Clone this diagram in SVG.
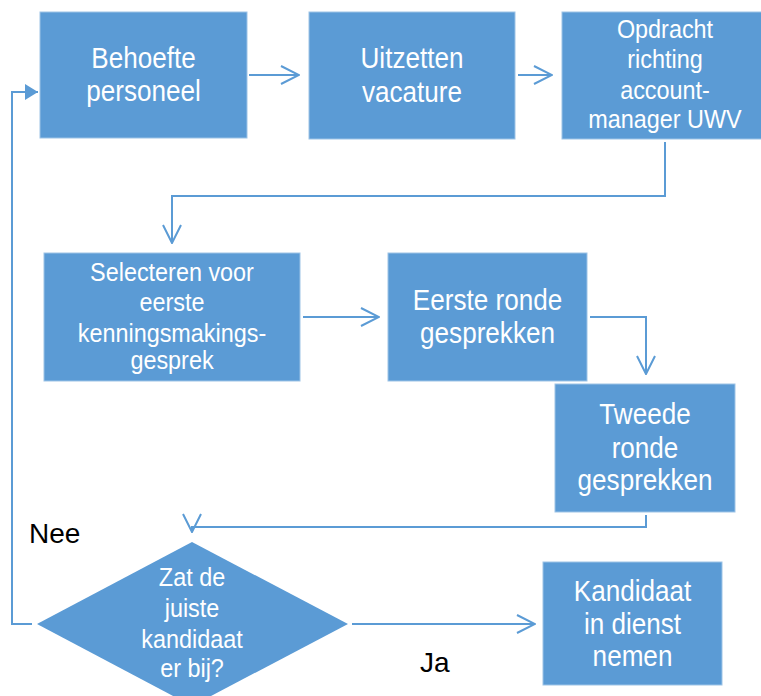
<svg xmlns="http://www.w3.org/2000/svg" width="761" height="696" viewBox="0 0 761 696">
  <style>
    .box { fill: #5B9BD5; stroke: #9DC3E6; stroke-width: 1; }
    .t { fill: #FFFFFF; font-family: "Liberation Sans", Arial, sans-serif; font-size: 29px; text-anchor: middle; }
    .ts { font-size: 26px; }
    .lbl { fill: #000000; font-family: "Liberation Sans", Arial, sans-serif; font-size: 28px; }
    .con { fill: none; stroke: #5B9BD5; stroke-width: 2; }
  </style>
  <defs>
    <marker id="open" viewBox="0 0 20 20" markerWidth="20" markerHeight="20" refX="19" refY="10" orient="auto" markerUnits="userSpaceOnUse">
      <path d="M1,1 L19,10 L1,19" fill="none" stroke="#5B9BD5" stroke-width="2"/>
    </marker>
    <marker id="solid" viewBox="0 0 14 16" markerWidth="14" markerHeight="16" refX="13" refY="8" orient="auto" markerUnits="userSpaceOnUse">
      <path d="M0,0 L13,8 L0,16 z" fill="#5B9BD5"/>
    </marker>
  </defs>

  <g id="connectors">
    <path class="con" d="M249,75 H299" marker-end="url(#open)"/>
    <path class="con" d="M518,75 H552" marker-end="url(#open)"/>
    <path class="con" d="M665,142 V196 H172 V243" marker-end="url(#open)"/>
    <path class="con" d="M303,317 H379" marker-end="url(#open)"/>
    <path class="con" d="M590,317 H646 V374" marker-end="url(#open)"/>
    <path class="con" d="M646,515 V527 H192 V532" marker-end="url(#open)"/>
    <path class="con" d="M32,624 H12 V92 H38" marker-end="url(#solid)"/>
    <path class="con" d="M352,624 H535" marker-end="url(#open)"/>
  </g>

  <g id="n-behoefte">
    <rect class="box" x="40" y="12" width="207" height="126"/>
    <text class="t" transform="translate(143.5 0) scale(0.9 1)"><tspan x="0" y="68">Behoefte</tspan><tspan x="0" y="101">personeel</tspan></text>
  </g>
  <g id="n-uitzetten">
    <rect class="box" x="309" y="12" width="206" height="127"/>
    <text class="t" transform="translate(412 0) scale(0.9 1)"><tspan x="0" y="68">Uitzetten</tspan><tspan x="0" y="102">vacature</tspan></text>
  </g>
  <g id="n-opdracht">
    <rect class="box" x="562" y="12" width="200" height="127"/>
    <text class="t ts" transform="translate(665 0) scale(0.9 1)"><tspan x="0" y="38">Opdracht</tspan><tspan x="0" y="68">richting</tspan><tspan x="0" y="99">account-</tspan><tspan x="0" y="128">manager UWV</tspan></text>
  </g>
  <g id="n-selecteren">
    <rect class="box" x="44" y="253" width="256" height="128"/>
    <text class="t ts" transform="translate(172 0) scale(0.9 1)"><tspan x="0" y="281">Selecteren voor</tspan><tspan x="0" y="311">eerste</tspan><tspan x="0" y="342">kenningsmakings-</tspan><tspan x="0" y="369">gesprek</tspan></text>
  </g>
  <g id="n-eerste">
    <rect class="box" x="388" y="253" width="199" height="128"/>
    <text class="t" transform="translate(487.5 0) scale(0.9 1)"><tspan x="0" y="310">Eerste ronde</tspan><tspan x="0" y="343">gesprekken</tspan></text>
  </g>
  <g id="n-tweede">
    <rect class="box" x="555" y="384" width="180" height="128"/>
    <text class="t" transform="translate(645 0) scale(0.9 1)"><tspan x="0" y="424">Tweede</tspan><tspan x="0" y="458">ronde</tspan><tspan x="0" y="490">gesprekken</tspan></text>
  </g>
  <g id="n-beslissing">
    <polygon points="192,542 348,624 192,706 37,624" fill="#5B9BD5"/>
    <text class="t ts" transform="translate(192 0) scale(0.9 1)"><tspan x="0" y="586">Zat de</tspan><tspan x="0" y="617">juiste</tspan><tspan x="0" y="648">kandidaat</tspan><tspan x="0" y="677">er bij?</tspan></text>
  </g>
  <g id="n-kandidaat">
    <rect class="box" x="543" y="562" width="179" height="123"/>
    <text class="t" transform="translate(632.5 0) scale(0.9 1)"><tspan x="0" y="601">Kandidaat</tspan><tspan x="0" y="634">in dienst</tspan><tspan x="0" y="666">nemen</tspan></text>
  </g>

  <g id="labels">
    <text class="lbl" x="29" y="543">Nee</text>
    <text class="lbl" x="420" y="672">Ja</text>
  </g>
</svg>
